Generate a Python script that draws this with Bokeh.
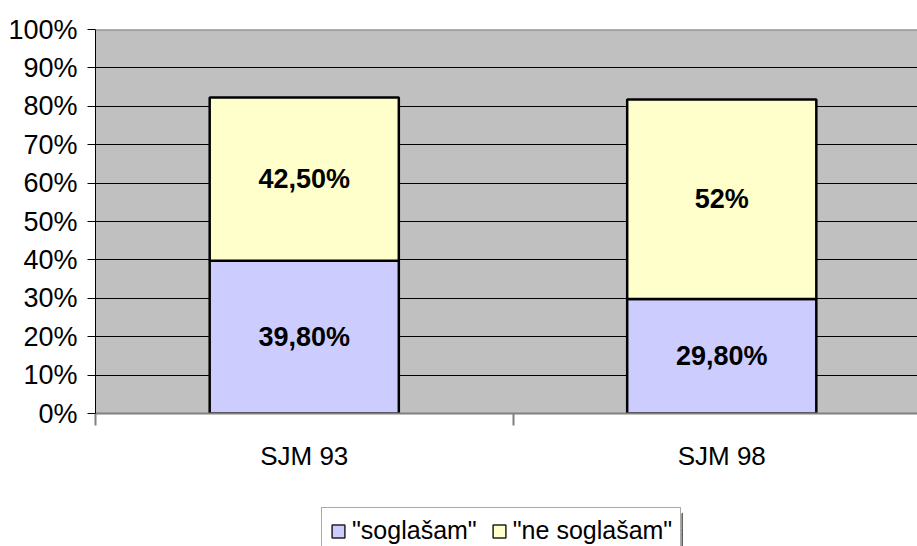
from bokeh.plotting import figure
from bokeh.layouts import column
from bokeh.models import Range1d, FixedTicker, PrintfTickFormatter, ColumnDataSource, Legend, LegendItem, Span
from bokeh.core.properties import value
from bokeh.embed import file_html
from bokeh.resources import INLINE

categories = ["SJM 93", "SJM 98"]
series_names = ['"soglašam"', '"ne soglašam"']
soglasam = [39.8, 29.8]
ne_soglasam = [42.5, 52.0]
soglasam_labels = ["39,80%", "29,80%"]
ne_soglasam_labels = ["42,50%", "52%"]
y_ticks = [0, 10, 20, 30, 40, 50, 60, 70, 80, 90, 100]
colors = ["#CCCCFF", "#FFFFCC"]

FONT = "Liberation Sans"

centers = [i + 0.5 for i in range(len(categories))]
bounds = [i for i in range(len(categories) + 1)]

p = figure(width=917, height=506, output_backend="svg", toolbar_location=None,
           x_range=Range1d(0, 822 / 417.5), y_range=Range1d(0, 100),
           min_border_left=95, min_border_top=29, min_border_bottom=93, min_border_right=0)
p.background_fill_color = "#C0C0C0"
p.border_fill_color = "white"
p.outline_line_color = None

src = ColumnDataSource(dict(x=centers, s1=soglasam, s2=ne_soglasam))
r = p.vbar_stack(["s1", "s2"], x="x", width=0.453, source=src, color=colors,
                 line_color="black", line_width=2.5)

mid1 = [v / 2 for v in soglasam]
mid2 = [a + b / 2 for a, b in zip(soglasam, ne_soglasam)]
lsrc = ColumnDataSource(dict(x=centers + centers, y=mid1 + mid2,
                             t=soglasam_labels + ne_soglasam_labels))
p.text(x="x", y="y", text="t", source=lsrc, text_align="center", text_baseline="middle",
       text_font=value(FONT), text_font_size="27px", text_font_style="bold", text_color="black")

p.add_layout(Span(location=100, dimension="width", line_color="#808080", line_width=2))

p.xgrid.visible = False
p.ygrid.ticker = FixedTicker(ticks=y_ticks)
p.ygrid.grid_line_color = "black"
p.ygrid.grid_line_width = 1

p.yaxis.ticker = FixedTicker(ticks=y_ticks)
p.yaxis.formatter = PrintfTickFormatter(format="%d%%")
p.yaxis.major_label_text_font = FONT
p.yaxis.major_label_text_font_size = "27px"
p.yaxis.major_label_text_color = "black"
p.yaxis.major_tick_out = 8
p.yaxis.major_tick_in = 0
p.yaxis.minor_tick_line_color = None
p.yaxis.axis_line_color = "black"
p.yaxis.major_tick_line_color = "black"
p.yaxis.major_label_standoff = 10

p.xaxis.ticker = FixedTicker(ticks=centers, minor_ticks=bounds)
p.xaxis.major_label_overrides = {c: n for c, n in zip(centers, categories)}
p.xaxis.major_label_text_font = FONT
p.xaxis.major_label_text_font_size = "26px"
p.xaxis.major_label_text_color = "black"
p.xaxis.major_tick_out = 0
p.xaxis.major_tick_in = 0
p.xaxis.minor_tick_out = 12
p.xaxis.minor_tick_in = 0
p.xaxis.minor_tick_line_color = "#808080"
p.xaxis.minor_tick_line_width = 2
p.xaxis.axis_line_color = "#808080"
p.xaxis.axis_line_width = 2
p.xaxis.major_label_standoff = 15

# legend strip below the chart
pl = figure(width=917, height=40, output_backend="svg", toolbar_location=None,
            x_range=Range1d(-10, -9), y_range=Range1d(0, 100),
            min_border_left=321, min_border_top=0, min_border_bottom=0, min_border_right=235)
if "frame_align" in pl.properties():
    pl.frame_align = False
    p.frame_align = False
pl.axis.visible = False
pl.grid.visible = False
pl.outline_line_color = None
pl.background_fill_color = "white"
pl.border_fill_color = "white"
rl = pl.vbar_stack(["s1", "s2"], x="x", width=0.453, source=src, color=colors,
                   line_color="#222222", line_width=1.5)

legend = Legend(items=[LegendItem(label=series_names[i], renderers=[rl[i]]) for i in range(2)],
                orientation="horizontal", location=(0, -8), margin=0)
legend.label_text_font = FONT
legend.label_text_font_size = "25px"
legend.label_text_color = "black"
legend.glyph_width = 16
legend.glyph_height = 16
legend.label_standoff = 6
legend.spacing = 14
legend.padding = 8
legend.border_line_color = "#555555"
legend.border_line_width = 1
legend.background_fill_color = "white"
legend.background_fill_alpha = 1
pl.add_layout(legend, "center")

layout = column(p, pl, spacing=0)
open("out.html", "w").write(file_html(layout, INLINE))
